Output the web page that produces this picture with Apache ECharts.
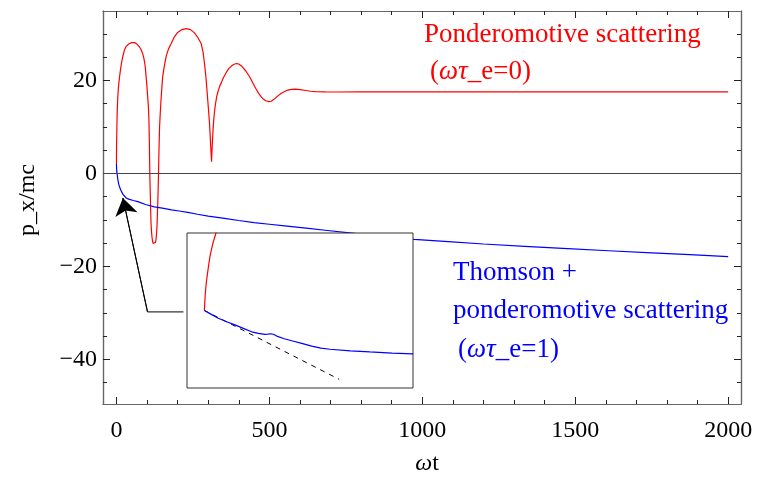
<!DOCTYPE html>
<html><head><meta charset="utf-8">
<script src="https://cdn.jsdelivr.net/npm/echarts@6/dist/echarts.min.js"></script>
<style>html,body{margin:0;padding:0;background:#fff}#c{width:762px;height:485px}</style>
</head><body><div id="c"></div>
<script>
// ---- data ----
const redT = [0,0.1,0.3,0.6,1,1.5,2,2.7,3.5,4.5,6,8,10,13,16,20,26,32,40,50,59,67,75,81,86,90,93,95,97,99.5,102,103.5,105,106.5,107.5,108.3,109,110,111,112,113,114.5,116,118,120,122,124,126,128,130,131.5,133,134.3,135.5,136.5,137.5,138.3,139,140,141,143,145,148,151,156,163,170,179,189,200,214,228,242,255,266,277,283,288,293,297,301,304,306,308,309.5,311,312.3,314,316,318,321,324,328,333,338,343,350,360,367,375,383,392,400,410,423,436,446,455,465,474,481,488,498,506,515,527,539,550,560,572,585,600,620,635,650,683,720,800,2000];
const redP = [2,3.5,5,6.8,8.5,10.3,12,13.5,15,16.5,18,19.5,20.7,22.2,23.5,24.9,26.5,27.3,27.8,28.1,28.1,27.8,27.2,26.5,25.7,24.6,23.5,22.3,20.7,18.8,16.5,15.2,13.6,10.5,7,3.5,0,-2.8,-5.5,-8.3,-10.7,-12.4,-13.6,-14.6,-15.1,-15.35,-15.4,-15.2,-14.8,-13.8,-12.5,-10.7,-8,-5.5,-2.8,0,2.5,5,7.5,10,12.7,15,18,20.7,22.9,25.3,26.7,27.9,29.3,30.3,30.9,31.1,30.9,30.2,29.2,27.9,26.1,23.5,20.3,17,13.6,11,8.6,6,4.2,2.5,4.8,7,9.5,11.5,13.5,15,16.6,17.8,18.8,19.5,20.6,21.8,22.5,23.0,23.4,23.6,23.5,23.0,22.0,20.7,19.4,18.3,17.2,16.4,15.9,15.6,15.4,15.5,15.9,16.6,17.2,17.6,17.9,18.05,18.1,18.0,17.8,17.65,17.55,17.5,17.48,17.5,17.5];
const blueT = [0,0.2,0.5,0.8,1.2,1.7,2.3,3.5,5,7,10,14,18,22,26,32,40,55,70,95,124,150,180,205,233,265,300,353,400,450,500,550,620,690,770,850,910,973,1085,1200,1335,1475,1610,1750,1875,2000];
const blueP = [2,1.5,1,0.6,0.3,0.1,0,-0.8,-1.5,-2.2,-2.9,-3.6,-4.1,-4.6,-5.0,-5.3,-5.55,-5.85,-6.1,-6.7,-7.2,-7.5,-7.85,-8.1,-8.4,-8.8,-9.2,-9.7,-10.15,-10.6,-10.95,-11.3,-11.8,-12.3,-12.85,-13.4,-13.8,-14.2,-14.7,-15.2,-15.7,-16.2,-16.65,-17.1,-17.5,-17.9];

const xMajorTicks = [0,500,1000,1500,2000];
const xMinorTicks = [0,100,200,300,400,500,600,700,800,900,1000,1100,1200,1300,1400,1500,1600,1700,1800,1900,2000];
const yMajorTicks = [-40,-20,0,20];
const yMinorTicks = [-45,-40,-35,-30,-25,-20,-15,-10,-5,0,5,10,15,20,25,30];

// inset (zoom near the start), own unit scale
const insetRedX = [0,0.02,0.05,0.09,0.13,0.18,0.24,0.32,0.4,0.48,0.58,0.667,0.8];
const insetRedY = [2,2.2,2.42,2.62,2.79,2.96,3.15,3.39,3.56,3.72,3.87,4.0,4.2];
const insetBlueX = [0,0.4,0.8,1.28,1.76,2.24,2.72,3.1,3.48,3.65,3.83,4.0,4.16,4.6,5.02,5.6,6.17,6.7,7.22,8.4,9.52,10.8,12];
const insetBlueY = [2,1.9,1.8,1.71,1.63,1.54,1.45,1.41,1.385,1.39,1.40,1.38,1.34,1.27,1.22,1.15,1.08,1.03,1.0,0.96,0.93,0.9,0.88];
const insetDashX = [0,7.75];
const insetDashY = [2,0.225];

// arrow path (data coords of main plot)
const arrowT = [219,101.5,21];
const arrowP = [-29.8,-29.8,-5.3];

const zip = (a,b) => a.map((v,i)=>[v,b[i]]);
const FONT = '"Liberation Serif","Times New Roman",serif';
const X0=-44, X1=2042, Y0=-49.6, Y1=34.9;
const frame = {color:'#666', width:1.2};
const tickStyle = {color:'#222', width:1};

function xAx(pos, ticks, len, label){
  return {gridIndex:0, type:'value', min:X0, max:X1, position:pos,
    axisLine:{show:true, onZero:false, lineStyle:frame},
    axisTick:{show:true, inside:true, length:len, customValues:ticks, lineStyle:tickStyle},
    axisLabel:{show:label, customValues:ticks, margin:15, fontFamily:FONT, fontSize:24, color:'#000',
      formatter:v=>String(v)},
    splitLine:{show:false}};
}
function yAx(pos, ticks, len, label){
  return {gridIndex:0, type:'value', min:Y0, max:Y1, position:pos,
    axisLine:{show:true, onZero:false, lineStyle:frame},
    axisTick:{show:true, inside:true, length:len, customValues:ticks, lineStyle:tickStyle},
    axisLabel:{show:label, customValues:ticks, margin:6, fontFamily:FONT, fontSize:24, color:'#000',
      formatter:v=>String(v).replace('-','\u2212')},
    splitLine:{show:false}};
}

const inset = {left:187, top:233, width:226, height:155};

const chart = echarts.init(document.getElementById('c'), null, {renderer:'canvas'});
chart.setOption({
  animation:false,
  backgroundColor:'#fff',
  grid:[
    {left:103, top:11, right:21, bottom:81, show:false},
    {left:inset.left, top:inset.top, width:inset.width, height:inset.height, show:false}
  ],
  xAxis:[
    xAx('bottom', xMajorTicks, 7, true),
    xAx('bottom', xMinorTicks, 4, false),
    xAx('top', xMajorTicks, 7, false),
    xAx('top', xMinorTicks, 4, false),
    {gridIndex:1, type:'value', min:-1, max:12, show:false}
  ],
  yAxis:[
    yAx('left', yMajorTicks, 7, true),
    yAx('left', yMinorTicks, 4, false),
    yAx('right', yMajorTicks, 7, false),
    yAx('right', yMinorTicks, 4, false),
    {gridIndex:1, type:'value', min:0, max:4, show:false}
  ],
  graphic:[
    {type:'rect', z:10, shape:{x:inset.left, y:inset.top, width:inset.width, height:inset.height},
      style:{fill:'#fff', stroke:'#333', lineWidth:1}},
    {type:'text', z:30, x:424, y:35, style:{text:'Ponderomotive scattering', fill:'#ff0000', font:'27px '+FONT, verticalAlign:'middle'}},
    {type:'text', z:30, x:430, y:72, style:{text:'({i|ωτ}_e=0)', fill:'#ff0000', font:'27px '+FONT, verticalAlign:'middle',
      rich:{i:{fontStyle:'italic', fontSize:27, fontFamily:FONT, fill:'#ff0000'}}}},
    {type:'text', z:30, x:453, y:273, style:{text:'Thomson +', fill:'#0000ff', font:'27px '+FONT, verticalAlign:'middle'}},
    {type:'text', z:30, x:453, y:311, style:{text:'ponderomotive scattering', fill:'#0000ff', font:'27px '+FONT, verticalAlign:'middle'}},
    {type:'text', z:30, x:458, y:350, style:{text:'({i|ωτ}_e=1)', fill:'#0000ff', font:'27px '+FONT, verticalAlign:'middle',
      rich:{i:{fontStyle:'italic', fontSize:27, fontFamily:FONT, fill:'#0000ff'}}}},
    {type:'text', z:30, x:28, y:200, rotation:Math.PI/2, style:{text:'p_x/mc', fill:'#000', font:'24px '+FONT, align:'center', verticalAlign:'middle'}},
    {type:'text', z:30, x:427, y:464, style:{text:'{i|ω}t', fill:'#000', font:'24px '+FONT, align:'center', verticalAlign:'middle',
      rich:{i:{fontStyle:'italic', fontSize:24, fontFamily:FONT}}}}
  ],
  series:[
    {type:'line', xAxisIndex:0, yAxisIndex:0, data:zip(redT,redP), showSymbol:false, z:2,
      lineStyle:{color:'#ff0000', width:1.2}},
    {type:'line', xAxisIndex:0, yAxisIndex:0, data:zip(blueT,blueP), showSymbol:false, z:3,
      lineStyle:{color:'#0000ff', width:1.2},
      markLine:{silent:true, symbol:'none', label:{show:false}, lineStyle:{color:'#444', width:1.2, type:'solid'}, data:[{yAxis:0}]}},
    {type:'line', xAxisIndex:0, yAxisIndex:0, data:zip(arrowT,arrowP), showSymbol:false, z:4,
      lineStyle:{color:'#000', width:1}},
    {type:'lines', coordinateSystem:'cartesian2d', xAxisIndex:0, yAxisIndex:0, z:4,
      symbol:['none','arrow'], symbolSize:[9,17],
      lineStyle:{color:'#000', width:1, opacity:1},
      data:[{coords:[[arrowT[1],arrowP[1]],[arrowT[2],arrowP[2]]]}]},
    {type:'line', xAxisIndex:4, yAxisIndex:4, data:zip(insetRedX,insetRedY), showSymbol:false, z:20,
      lineStyle:{color:'#ff0000', width:1.2}},
    {type:'line', xAxisIndex:4, yAxisIndex:4, data:zip(insetDashX,insetDashY), showSymbol:false, z:21,
      lineStyle:{color:'#000', width:1, type:[5,5]}},
    {type:'line', xAxisIndex:4, yAxisIndex:4, data:zip(insetBlueX,insetBlueY), showSymbol:false, z:22,
      lineStyle:{color:'#0000ff', width:1.2}}
  ]
});
</script></body></html>
